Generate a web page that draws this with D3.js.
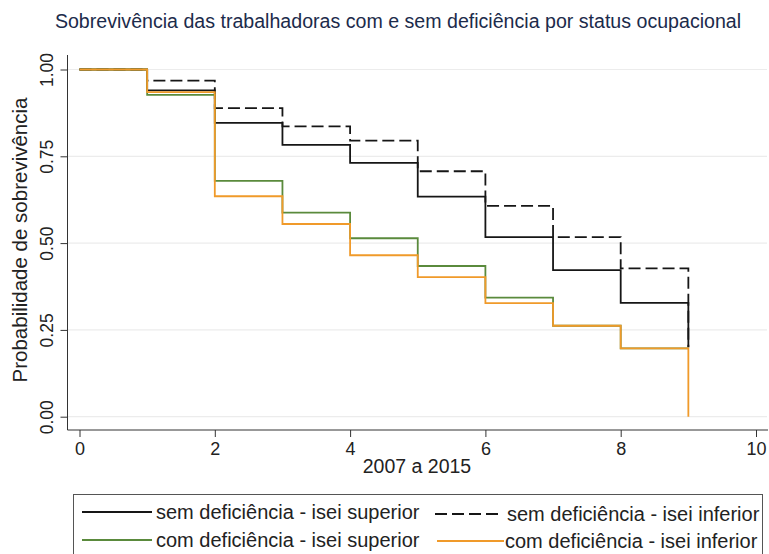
<!DOCTYPE html>
<html>
<head>
<meta charset="utf-8">
<script src="https://cdn.jsdelivr.net/npm/d3@7"></script>
<style>
  html, body { margin: 0; padding: 0; background: #ffffff; }
  svg { display: block; font-family: "Liberation Sans", Arial, sans-serif; }
</style>
</head>
<body>
<svg id="chart" width="769" height="554"></svg>
<script>
// Kaplan-Meier survival estimates by year of follow-up
const times = [0, 1, 2, 3, 4, 5, 6, 7, 8, 9];
const semSuperior = [1, 0.940, 0.846, 0.783, 0.731, 0.634, 0.517, 0.422, 0.328, 0.200];
const semInferior = [1, 0.968, 0.889, 0.836, 0.795, 0.707, 0.607, 0.517, 0.427, 0.200];
const comSuperior = [1, 0.927, 0.679, 0.588, 0.514, 0.434, 0.343, 0.262, 0.197, 0.197];
const comInferior = [1, 0.935, 0.635, 0.555, 0.465, 0.402, 0.327, 0.262, 0.197, 0];

const seriesNames = [
  "sem deficiência - isei superior",
  "sem deficiência - isei inferior",
  "com deficiência - isei superior",
  "com deficiência - isei inferior"
];
const xTicks = [0, 2, 4, 6, 8, 10];
const yTicks = [0, 0.25, 0.5, 0.75, 1];
const yTickLabels = ["0.00", "0.25", "0.50", "0.75", "1.00"];

const titleText = "Sobrevivência das trabalhadoras com e sem deficiência por status ocupacional";
const xTitle = "2007 a 2015";
const yTitle = "Probabilidade de sobrevivência";

const styles = [
  { color: "#161616", dash: null },
  { color: "#161616", dash: "12,5" },
  { color: "#5a8a3c", dash: null },
  { color: "#f09a2a", dash: null }
];
const seriesValues = [semSuperior, semInferior, comSuperior, comInferior];

const svg = d3.select("#chart");

const x = d3.scaleLinear().domain([0, 10]).range([79.5, 756]);
const y = d3.scaleLinear().domain([0, 1]).range([416.7, 69.5]);

const plotLeft = 67.5, plotRight = 767, axisY = 430, plotTop = 55;

// title
svg.append("text")
  .attr("x", 398).attr("y", 28)
  .attr("text-anchor", "middle")
  .attr("font-size", 19.6)
  .attr("fill", "#1c2b4b")
  .text(titleText);

// horizontal gridlines
svg.append("g").selectAll("line")
  .data(yTicks)
  .join("line")
  .attr("x1", plotLeft).attr("x2", plotRight)
  .attr("y1", d => y(d)).attr("y2", d => y(d))
  .attr("stroke", "#ececec")
  .attr("stroke-width", 1.2);

// y axis
const yAxis = d3.axisLeft(y)
  .tickValues(yTicks)
  .tickFormat((d, i) => yTickLabels[i])
  .tickSizeOuter(0)
  .tickSize(7)
  .tickPadding(6);
const gy = svg.append("g").attr("transform", `translate(${plotLeft},0)`).call(yAxis);
gy.select(".domain").attr("d", `M0,${plotTop}V${axisY}`).attr("stroke", "#333");
gy.selectAll(".tick line").attr("stroke", "#333");
gy.selectAll(".tick text")
  .attr("font-size", 17.5)
  .attr("fill", "#222")
  .attr("text-anchor", "middle")
  .attr("dy", 0)
  .attr("x", 0)
  .attr("transform", "translate(-21,0) rotate(-90)")
  .attr("y", 6);

// x axis
const xAxis = d3.axisBottom(x)
  .tickValues(xTicks)
  .tickSizeOuter(0)
  .tickSize(7)
  .tickPadding(5);
const gx = svg.append("g").attr("transform", `translate(0,${axisY})`).call(xAxis);
gx.select(".domain").attr("d", `M${plotLeft},0H${plotRight + 1}`).attr("stroke", "#333");
gx.selectAll(".tick line").attr("stroke", "#333");
gx.selectAll(".tick text").attr("font-size", 18).attr("fill", "#222");

// axis titles
svg.append("text")
  .attr("x", 417).attr("y", 473)
  .attr("text-anchor", "middle")
  .attr("font-size", 19.5)
  .attr("fill", "#222")
  .text(xTitle);

svg.append("text")
  .attr("transform", "translate(27,240) rotate(-90)")
  .attr("text-anchor", "middle")
  .attr("font-size", 20.5)
  .attr("fill", "#222")
  .text(yTitle);

// survival step curves
const line = d3.line()
  .x(d => x(d[0]))
  .y(d => y(d[1]))
  .curve(d3.curveStepAfter);

svg.append("g").selectAll("path")
  .data(seriesValues)
  .join("path")
  .attr("d", vals => line(times.map((t, i) => [t, vals[i]])))
  .attr("fill", "none")
  .attr("stroke", (d, i) => styles[i].color)
  .attr("stroke-width", 1.8)
  .attr("stroke-dasharray", (d, i) => styles[i].dash);

// legend
const legend = svg.append("g");
legend.append("rect")
  .attr("x", 73.5).attr("y", 494.5)
  .attr("width", 689).attr("height", 70)
  .attr("fill", "#fff")
  .attr("stroke", "#555")
  .attr("stroke-width", 1);

const legendPos = [
  { kx1: 82, kx2: 152, tx: 156, ly: 512 },
  { kx1: 435, kx2: 501, tx: 507, ly: 514 },
  { kx1: 82, kx2: 152, tx: 156, ly: 540 },
  { kx1: 437, kx2: 504, tx: 505, ly: 541 }
];
seriesNames.forEach((name, i) => {
  const p = legendPos[i];
  legend.append("line")
    .attr("x1", p.kx1).attr("x2", p.kx2)
    .attr("y1", p.ly).attr("y2", p.ly)
    .attr("stroke", styles[i].color)
    .attr("stroke-width", 1.8)
    .attr("stroke-dasharray", styles[i].dash);
  legend.append("text")
    .attr("x", p.tx).attr("y", p.ly + 7)
    .attr("font-size", 20)
    .attr("fill", "#222")
    .text(name);
});
</script>
</body>
</html>
